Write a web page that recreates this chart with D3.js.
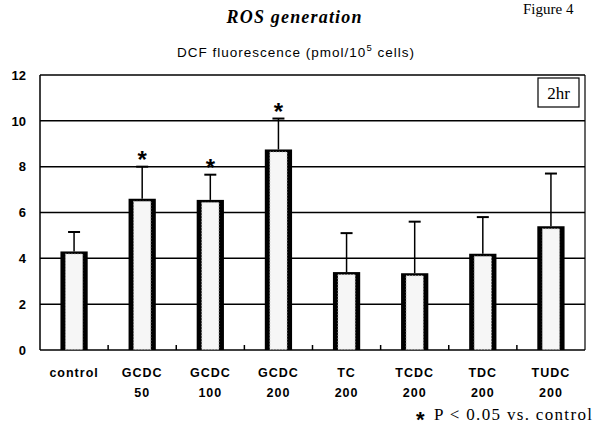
<!DOCTYPE html>
<html><head><meta charset="utf-8">
<script src="https://cdn.jsdelivr.net/npm/d3@7"></script>
<style>body{margin:0;background:#fff}svg{display:block}</style>
</head><body>
<svg id="c" width="595" height="434"></svg>
<script>
const categories = [["control"],["GCDC","50"],["GCDC","100"],["GCDC","200"],["TC","200"],["TCDC","200"],["TDC","200"],["TUDC","200"]];
const means = [4.3, 6.6, 6.55, 8.75, 3.4, 3.35, 4.2, 5.4];
const errTops = [5.15, 8.0, 7.65, 10.1, 5.1, 5.6, 5.8, 7.7];
const significant = [false, true, true, true, false, false, false, false];
const yTicks = [0, 2, 4, 6, 8, 10, 12];

const svg = d3.select("#c");
const L = 40, R = 585, T = 75, B = 350;
const x = d3.scaleBand().domain(d3.range(categories.length)).range([L, R]).paddingInner(0.6).paddingOuter(0.3);
const y = d3.scaleLinear().domain([0, 12]).range([B, T]);

// gridlines
svg.append("g").selectAll("line").data(yTicks.filter(d => d > 0)).join("line")
  .attr("x1", L).attr("x2", R).attr("y1", d => y(d)).attr("y2", d => y(d))
  .attr("stroke", "#000").attr("stroke-width", 1.5);
// frame
svg.append("line").attr("x1", L).attr("x2", L).attr("y1", T).attr("y2", B).attr("stroke", "#000").attr("stroke-width", 1.5);
svg.append("line").attr("x1", R).attr("x2", R).attr("y1", T).attr("y2", B).attr("stroke", "#000").attr("stroke-width", 1.2);
svg.append("line").attr("x1", L).attr("x2", R).attr("y1", B).attr("y2", B).attr("stroke", "#000").attr("stroke-width", 1.5);

// y axis
const yAxis = d3.axisLeft(y).tickValues(yTicks).tickSize(0).tickPadding(14);
const ya = svg.append("g").attr("transform", `translate(${L},0)`).call(yAxis);
ya.select(".domain").remove();
ya.selectAll("text").attr("font-family", "Liberation Sans, Arial, sans-serif").attr("font-weight", "bold").attr("font-size", 13).attr("fill", "#000");

// small ticks between bars on baseline
const step = x.step();
svg.append("g").selectAll("line").data(d3.range(1, categories.length)).join("line")
  .attr("x1", i => x(i) - step * x.paddingInner() / 2).attr("x2", i => x(i) - step * x.paddingInner() / 2)
  .attr("y1", B).attr("y2", B - 5).attr("stroke", "#000").attr("stroke-width", 1.5);

// error bars
const cx = i => x(i) + x.bandwidth() / 2;
const eg = svg.append("g");
eg.selectAll("line.v").data(means).join("line").attr("class", "v")
  .attr("x1", (d, i) => cx(i)).attr("x2", (d, i) => cx(i))
  .attr("y1", d => y(d)).attr("y2", (d, i) => y(errTops[i])).attr("stroke", "#000").attr("stroke-width", 1.5);
eg.selectAll("line.c").data(errTops).join("line").attr("class", "c")
  .attr("x1", (d, i) => cx(i) - 6).attr("x2", (d, i) => cx(i) + 6)
  .attr("y1", d => y(d)).attr("y2", d => y(d)).attr("stroke", "#000").attr("stroke-width", 2);

// bars
const bg = svg.append("g");
bg.selectAll("rect.o").data(means).join("rect").attr("class", "o")
  .attr("x", (d, i) => x(i)).attr("width", x.bandwidth())
  .attr("y", d => y(d)).attr("height", d => B - y(d)).attr("fill", "#000");
bg.selectAll("rect.i").data(means).join("rect").attr("class", "i")
  .attr("x", (d, i) => x(i) + 5).attr("width", x.bandwidth() - 10)
  .attr("y", d => y(d) + 2.5).attr("height", d => B - y(d) - 3).attr("fill", "#f6f6f6")
  .attr("stroke", "#aaa").attr("stroke-width", 1).attr("stroke-dasharray", "1,2");

// asterisks
svg.append("g").selectAll("text").data(means.map((d, i) => i).filter(i => significant[i])).join("text")
  .attr("x", i => cx(i)).attr("y", i => y(errTops[i]) + 1)
  .attr("text-anchor", "middle").attr("font-family", "Liberation Sans, Arial, sans-serif")
  .attr("font-weight", "bold").attr("font-size", 24).text("*");

// category labels
const lg = svg.append("g");
categories.forEach((lines, i) => {
  lines.forEach((t, k) => {
    lg.append("text").attr("x", cx(i)).attr("y", 377 + k * 20).attr("text-anchor", "middle")
      .attr("font-family", "Liberation Sans, Arial, sans-serif").attr("font-weight", "bold")
      .attr("font-size", 12.5).attr("letter-spacing", 1).text(t);
  });
});

// 2hr box
svg.append("rect").attr("x", 538).attr("y", 78).attr("width", 41).attr("height", 29).attr("fill", "#fff").attr("stroke", "#000").attr("stroke-width", 1.2);
svg.append("text").attr("x", 558.5).attr("y", 99).attr("text-anchor", "middle").attr("font-family", "Liberation Serif, Times New Roman, serif").attr("font-size", 17).text("2hr");

// titles
svg.append("text").attr("x", 294).attr("y", 23).attr("text-anchor", "middle")
  .attr("font-family", "Liberation Serif, Times New Roman, serif").attr("font-weight", "bold").attr("font-style", "italic")
  .attr("font-size", 18).attr("textLength", 135).attr("lengthAdjust", "spacing").text("ROS generation");
const sub = svg.append("text").attr("x", 296).attr("y", 57).attr("text-anchor", "middle")
  .attr("font-family", "Liberation Sans, Arial, sans-serif").attr("font-size", 13.5).attr("letter-spacing", 1);
sub.append("tspan").text("DCF fluorescence (pmol/10");
sub.append("tspan").attr("dy", -6).attr("font-size", 9.5).text("5");
sub.append("tspan").attr("dy", 6).text(" cells)");

svg.append("text").attr("x", 523).attr("y", 14).attr("font-family", "Liberation Serif, Times New Roman, serif").attr("font-size", 15).text("Figure 4");

svg.append("text").attr("x", 416).attr("y", 427).attr("font-family", "Liberation Sans, Arial, sans-serif")
  .attr("font-weight", "bold").attr("font-size", 22).text("*");
svg.append("text").attr("x", 592).attr("y", 420).attr("text-anchor", "end")
  .attr("font-family", "Liberation Serif, Times New Roman, serif").attr("font-size", 17)
  .attr("textLength", 158).attr("lengthAdjust", "spacing").text("P < 0.05 vs. control");
</script>
</body></html>
